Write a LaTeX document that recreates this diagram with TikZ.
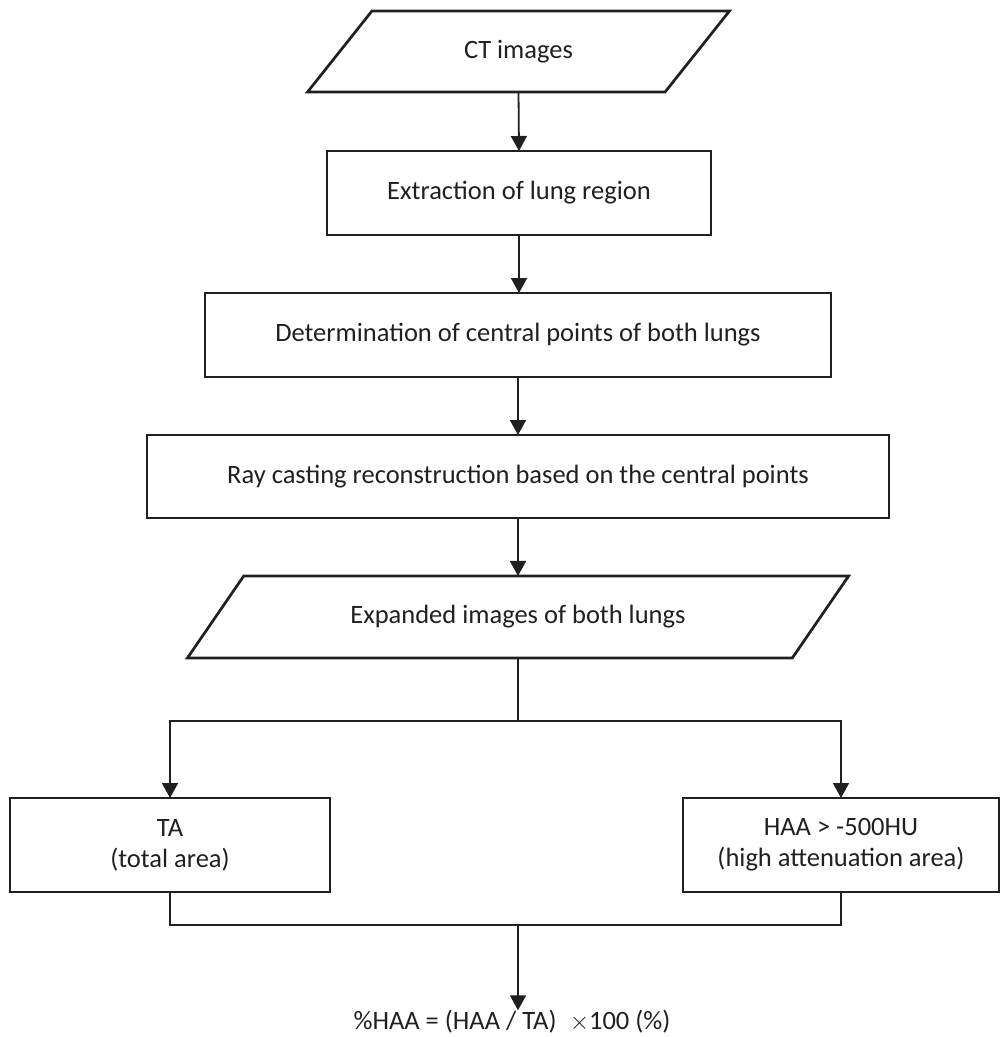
\documentclass[tikz,border=0pt]{standalone}
\usepackage{fontspec}
\setmainfont{Carlito}
\usetikzlibrary{arrows.meta,shapes.geometric,calc}
\definecolor{ink}{HTML}{231F20}
\tikzset{
  boxline/.style={draw=ink,line width=2.7pt,outer sep=0pt,inner sep=0pt,align=center,font=\fontsize{26.5}{31}\selectfont,text=ink},
  rbox/.style={boxline,rectangle},
  pbox/.style={boxline,trapezium,trapezium stretches=true},
  conn/.style={draw=ink,line width=1.8pt},
  arr/.style={conn,-{Triangle[width=16pt,length=15pt]}}
}
\begin{document}
\begin{tikzpicture}[x=1pt,y=-1pt]
\useasboundingbox (0,0) rectangle (1002,1037);
\node[pbox,trapezium left angle=43.6,trapezium right angle=136.4,minimum width=423pt,minimum height=81pt] (ct) at (518.5,51.5) {CT images};
\node[rbox,minimum width=384pt,minimum height=84pt] (ext) at (519,193) {Extraction of lung region};
\node[rbox,minimum width=626pt,minimum height=84pt] (det) at (518,335) {Determination of central points of both lungs};
\node[rbox,minimum width=742pt,minimum height=83pt] (ray) at (518,476.5) {Ray casting reconstruction based on the central points};
\node[pbox,trapezium left angle=33.7,trapezium right angle=146.3,minimum width=662pt,minimum height=82pt] (exp) at (518,617) {Expanded images of both lungs};
\node[rbox,minimum width=320pt,minimum height=94pt] (ta) at (170,845) {TA\\(total area)};
\node[rbox,minimum width=316pt,minimum height=94pt] (haa) at (841,845) {HAA > -500HU\\(high attenuation area)};
\node[text=ink,font=\fontsize{26.5}{31}\selectfont,inner sep=0pt] (res) at (512,1022) {\%HAA = (HAA / TA)\enspace{\fontsize{38}{38}\selectfont$\times$}100 (\%)};
\coordinate (br) at (518,721);
\coordinate (jn) at (518,925);
\draw[arr] (ct.south) -- (ext.north);
\draw[arr] (ext.south) -- (ext.south |- det.north);
\draw[arr] (det.south) -- (det.south |- ray.north);
\draw[arr] (ray.south) -- (ray.south |- exp.north);
\draw[conn] (exp.south) -- (br);
\draw[arr] (br) -| (ta.north);
\draw[arr] (br) -| (haa.north);
\draw[conn] (ta.south) |- (jn);
\draw[conn] (haa.south) |- (jn);
\draw[arr] (jn) -- (jn |- res.north);
\end{tikzpicture}
\end{document}
